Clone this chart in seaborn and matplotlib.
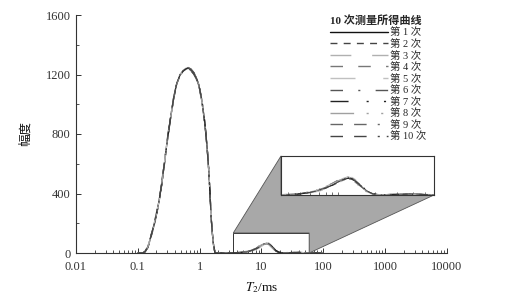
import numpy as np
import pandas as pd
import matplotlib
matplotlib.use("Agg")
import matplotlib.pyplot as plt
import seaborn as sns
from matplotlib.patches import Polygon, Rectangle
from matplotlib.ticker import FixedLocator, FixedFormatter, LogLocator, NullFormatter, MultipleLocator

# ---------------- data ----------------
T2 = [0.10, 0.12, 0.131, 0.145, 0.157, 0.175, 0.197, 0.22, 0.244, 0.265,
      0.286, 0.31, 0.34, 0.38, 0.426, 0.48, 0.54, 0.60, 0.656, 0.72,
      0.80, 0.88, 0.953, 1.06, 1.18, 1.26, 1.33, 1.39, 1.44, 1.49,
      1.53, 1.60, 1.67, 1.77, 2.0, 3.0, 4.0, 5.0, 6.0, 7.0,
      8.0, 9.0, 10.0, 11.0, 12.0, 13.0, 14.0, 15.5, 17.0, 19.0,
      22.0, 26.0, 32.0, 40.0, 55.0, 80.0, 100.0]

s1 = [0, 0, 9, 40, 87, 160, 244, 350, 468, 580, 692, 800, 916, 1040, 1141, 1195, 1225, 1238, 1242, 1232,
      1210, 1180, 1141, 1050, 916, 800, 692, 580, 468, 350, 244, 140, 60, 0, 0, 0, 2, 5, 10, 18,
      28, 38, 50, 60, 65, 62, 50, 32, 15, 4, 0, 2, 3, 4, 1, 0, 0]
s2 = [0, 0, 7, 35, 80, 152, 236, 342, 460, 572, 684, 794, 910, 1035, 1138, 1193, 1222, 1236, 1240, 1228,
      1205, 1174, 1135, 1045, 910, 795, 686, 575, 462, 345, 240, 136, 57, 0, 0, 0, 1, 4, 9, 16,
      26, 36, 47, 57, 62, 60, 49, 33, 16, 5, 1, 2, 2, 3, 1, 0, 0]
s3 = [0, 0, 10, 43, 92, 166, 250, 358, 476, 588, 700, 808, 922, 1046, 1146, 1200, 1228, 1242, 1246, 1238,
      1214, 1184, 1146, 1055, 920, 804, 696, 584, 472, 353, 247, 143, 62, 0, 0, 0, 3, 6, 12, 20,
      31, 42, 54, 64, 70, 66, 52, 31, 13, 3, 0, 3, 4, 5, 2, 0, 0]
s4 = [0, 0, 8, 38, 84, 156, 240, 346, 464, 576, 688, 796, 912, 1036, 1136, 1190, 1218, 1232, 1236, 1228,
      1206, 1176, 1138, 1046, 912, 797, 689, 578, 466, 348, 242, 138, 58, 0, 0, 0, 2, 5, 11, 19,
      30, 40, 52, 60, 63, 58, 46, 30, 14, 4, 1, 1, 3, 4, 1, 0, 0]
s5 = [0, 0, 9, 41, 88, 162, 246, 352, 470, 582, 694, 802, 918, 1042, 1143, 1197, 1226, 1240, 1244, 1234,
      1212, 1182, 1143, 1052, 918, 802, 694, 582, 470, 352, 246, 142, 61, 0, 0, 0, 2, 4, 8, 14,
      22, 32, 44, 56, 66, 68, 58, 38, 18, 6, 1, 2, 2, 3, 1, 0, 0]
s6 = [0, 0, 11, 45, 94, 170, 256, 364, 482, 594, 706, 812, 926, 1048, 1146, 1198, 1224, 1236, 1238, 1226,
      1202, 1170, 1130, 1040, 906, 790, 682, 572, 460, 344, 240, 136, 56, 0, 0, 0, 2, 6, 12, 21,
      33, 45, 57, 66, 69, 63, 50, 31, 14, 4, 0, 2, 3, 4, 1, 0, 0]
s7 = [0, 0, 8, 37, 84, 157, 240, 346, 463, 575, 687, 796, 912, 1037, 1139, 1194, 1224, 1238, 1243, 1236,
      1214, 1186, 1148, 1058, 924, 808, 700, 587, 474, 356, 248, 144, 63, 0, 0, 0, 1, 4, 9, 17,
      27, 37, 48, 58, 64, 63, 53, 36, 18, 6, 1, 2, 3, 3, 1, 0, 0]
s8 = [0, 0, 9, 39, 86, 158, 242, 348, 466, 578, 690, 798, 914, 1038, 1140, 1194, 1222, 1236, 1240, 1231,
      1209, 1178, 1140, 1049, 915, 799, 691, 579, 467, 349, 243, 139, 59, 0, 0, 0, 3, 7, 13, 22,
      33, 44, 55, 62, 64, 58, 44, 27, 11, 3, 0, 3, 3, 5, 2, 0, 0]
s9 = [0, 0, 10, 42, 90, 164, 248, 355, 473, 585, 697, 805, 920, 1044, 1144, 1199, 1228, 1243, 1247, 1237,
      1215, 1185, 1146, 1054, 920, 804, 695, 583, 471, 352, 246, 141, 60, 0, 0, 0, 2, 5, 10, 18,
      28, 39, 51, 61, 67, 65, 54, 35, 16, 5, 1, 2, 3, 4, 1, 0, 0]
s10 = [0, 0, 9, 40, 87, 160, 244, 350, 468, 580, 692, 800, 916, 1040, 1141, 1195, 1224, 1237, 1241, 1231,
       1209, 1179, 1141, 1050, 916, 800, 692, 580, 468, 350, 244, 140, 60, 0, 0, 0, 2, 5, 10, 17,
       27, 37, 49, 59, 66, 64, 52, 34, 16, 5, 1, 2, 3, 4, 1, 0, 0]

series_values = [s1, s2, s3, s4, s5, s6, s7, s8, s9, s10]
series_labels = ["第 1 次", "第 2 次", "第 3 次", "第 4 次", "第 5 次",
                 "第 6 次", "第 7 次", "第 8 次", "第 9 次", "第 10 次"]
legend_title = "10 次测量所得曲线"
x_ticks = [0.01, 0.1, 1, 10, 100, 1000, 10000]
x_tick_labels = ["0.01", "0.1", "1", "10", "100", "1000", "10000"]
y_ticks = [0, 400, 800, 1200, 1600]

# ---------------- styles ----------------
colors = ["#111111", "#444444", "#b0b0b0", "#777777", "#c0c0c0",
          "#555555", "#222222", "#a0a0a0", "#666666", "#444444"]
dash_patterns = [
    "",
    (5, 4.5),
    (15, 15),
    (9, 11),
    (18, 20),
    (9, 11, 1.5, 11),
    (13, 13, 1.5, 11, 1.5, 11),
    (17, 9, 1.5, 9, 1.5, 9, 1.5, 9),
    (9, 8, 9, 8, 1.5, 8, 1.5, 8),
    (9, 8, 9, 8, 1.5, 5, 1.5, 5, 1.5, 5),
]

rows = []
for lab, vals in zip(series_labels, series_values):
    for t, v in zip(T2, vals):
        rows.append({"T2": t, "amp": v, "series": lab})
df = pd.DataFrame(rows)

palette = dict(zip(series_labels, colors))
dashes = dict(zip(series_labels, dash_patterns))

sns.set_theme(style="white")
plt.rcParams["font.family"] = ["Liberation Serif", "Noto Sans CJK SC"]
plt.rcParams["mathtext.fontset"] = "stix"

fig = plt.figure(figsize=(5.1, 3.0), dpi=100)
fig.patch.set_facecolor("white")
ax = fig.add_axes([76 / 510, 1 - 253 / 300, (447 - 76) / 510, (253 - 15) / 300])

sns.lineplot(data=df, x="T2", y="amp", hue="series", style="series",
             palette=palette, dashes=dashes, estimator=None, linewidth=0.9,
             ax=ax, legend=True)

ax.set_xscale("log")
ax.set_xlim(0.01, 10000)
ax.set_ylim(0, 1600)
ax.xaxis.set_major_locator(FixedLocator(x_ticks))
ax.xaxis.set_major_formatter(FixedFormatter(x_tick_labels))
ax.xaxis.set_minor_locator(LogLocator(base=10, subs=np.arange(2, 10), numticks=50))
ax.xaxis.set_minor_formatter(NullFormatter())
ax.yaxis.set_major_locator(FixedLocator(y_ticks))
ax.yaxis.set_minor_locator(MultipleLocator(200))
ax.tick_params(which="both", direction="in", colors="#333333", labelsize=9,
               bottom=True, left=True, top=False, right=False)
ax.tick_params(which="major", length=3.5, width=0.7)
ax.tick_params(which="minor", length=2, width=0.6)
ax.tick_params(axis="x", which="major", pad=6)
ax.tick_params(axis="y", which="major", pad=4)
for s in ["top", "right"]:
    ax.spines[s].set_visible(False)
for s in ["left", "bottom"]:
    ax.spines[s].set_color("#333333")
    ax.spines[s].set_linewidth(0.8)
ax.set_xlabel(r"$T_2$/ms", fontsize=9.5, color="#111111", labelpad=5)
ax.set_ylabel("幅度", fontsize=9, color="#111111", labelpad=10)

handles, labels = ax.get_legend_handles_labels()
leg = ax.legend(handles, labels, title=legend_title, loc="upper left",
                bbox_to_anchor=(330 / 510, 1 - 15 / 300), bbox_transform=fig.transFigure,
                frameon=False, fontsize=7.5, title_fontsize=8, handlelength=5.6,
                handletextpad=0.2, labelspacing=0.16, borderpad=0, borderaxespad=0)
leg._legend_box.align = "left"
leg.get_title().set_fontweight("bold")
for line in leg.get_lines():
    line.set_linewidth(1.0)

# small zoom box on main axes
box_x0, box_x1, box_top = 3.5, 59, 135
rect = Rectangle((box_x0, 0), box_x1 - box_x0, box_top, fill=False,
                 edgecolor="#333333", linewidth=0.7, zorder=4)
ax.add_patch(rect)

# inset axes
inset_rect = [281 / 510, 1 - 195 / 300, (434 - 281) / 510, (195 - 156) / 300]
axin = fig.add_axes(inset_rect, zorder=3)
sns.lineplot(data=df, x="T2", y="amp", hue="series", style="series",
             palette=palette, dashes=dashes, estimator=None, linewidth=0.7,
             ax=axin, legend=False)
axin.set_xscale("log")
axin.set_xlim(box_x0, box_x1)
axin.set_ylim(0, 150)
axin.set_xlabel("")
axin.set_ylabel("")
axin.set_facecolor("white")
axin.xaxis.set_major_formatter(NullFormatter())
axin.xaxis.set_minor_formatter(NullFormatter())
axin.set_yticks([])
axin.tick_params(axis="x", which="both", direction="in", length=2, width=0.5,
                 colors="#333333", bottom=True, top=False)
for s in axin.spines.values():
    s.set_color("#333333")
    s.set_linewidth(0.8)

# gray connecting polygon (figure coords)
to_fig = fig.transFigure.inverted()
def data_pt(x, y):
    return to_fig.transform(ax.transData.transform((x, y)))
def inset_pt(x, y):
    return to_fig.transform(axin.transAxes.transform((x, y)))

verts = [data_pt(box_x0, box_top), inset_pt(0, 1), inset_pt(0, 0), inset_pt(1, 0),
         data_pt(box_x1, 0), data_pt(box_x1, box_top)]
poly = Polygon(verts, closed=True, transform=fig.transFigure, facecolor="#a8a8a8",
               edgecolor="#555555", linewidth=0.6, zorder=2)
fig.add_artist(poly)

fig.savefig("out.png", dpi=100, facecolor="white")
